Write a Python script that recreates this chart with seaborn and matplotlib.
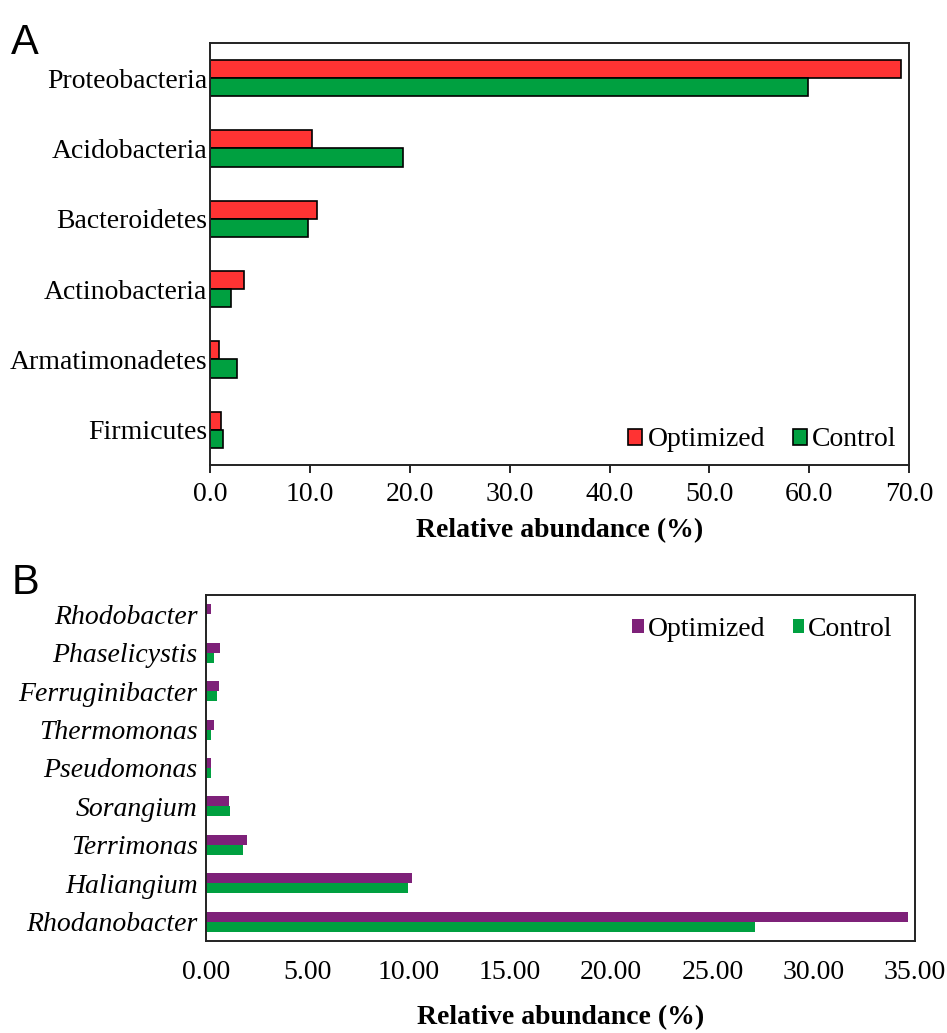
import matplotlib
matplotlib.use("Agg")
import matplotlib.pyplot as plt
import seaborn as sns
import pandas as pd

# Panel A data (phylum level)
phyla = ["Proteobacteria", "Acidobacteria", "Bacteroidetes", "Actinobacteria",
         "Armatimonadetes", "Firmicutes"]
phyla_optimized = [69.2, 10.2, 10.7, 3.4, 0.9, 1.1]
phyla_control = [59.9, 19.3, 9.8, 2.1, 2.7, 1.3]

# Panel B data (genus level)
genera = ["Rhodobacter", "Phaselicystis", "Ferruginibacter", "Thermomonas",
          "Pseudomonas", "Sorangium", "Terrimonas", "Haliangium", "Rhodanobacter"]
genera_optimized = [0.25, 0.68, 0.63, 0.40, 0.26, 1.14, 2.01, 10.15, 34.65]
genera_control = [0.05, 0.40, 0.54, 0.23, 0.26, 1.20, 1.83, 9.95, 27.10]

groups = ["Optimized", "Control"]

df_a = pd.DataFrame({
    "taxon": phyla * 2,
    "value": phyla_optimized + phyla_control,
    "group": [groups[0]] * len(phyla) + [groups[1]] * len(phyla),
})
df_b = pd.DataFrame({
    "taxon": genera * 2,
    "value": genera_optimized + genera_control,
    "group": [groups[0]] * len(genera) + [groups[1]] * len(genera),
})

sns.set_style("white")
plt.rcParams["font.family"] = ["Liberation Serif", "DejaVu Serif"]
for key in ["text.color", "axes.labelcolor", "xtick.color", "ytick.color"]:
    plt.rcParams[key] = "black"

fig = plt.figure(figsize=(9.47, 10.33), dpi=100)
ax_a = fig.add_axes([0.2218, 0.5499, 0.960 - 0.2218, 0.9584 - 0.5499])
ax_b = fig.add_axes([0.2175, 0.0891, 0.9662 - 0.2175, 0.424 - 0.0891])

fs = 20

# ---- Panel A
sns.barplot(data=df_a, y="taxon", x="value", hue="group", orient="h",
            order=phyla, hue_order=groups, palette=["#FF3333", "#00A040"],
            width=0.52, edgecolor="black", linewidth=1.2, saturation=1,
            ax=ax_a)
ax_a.set_xlim(0, 70)
ax_a.set_ylim(len(phyla) - 0.5, -0.5)
ax_a.set_xticks(range(0, 71, 10))
ax_a.set_xticklabels([f"{v:.1f}" for v in range(0, 71, 10)], fontsize=fs)
ax_a.tick_params(axis="x", direction="out", length=6, width=1.2, pad=6,
                 bottom=True)
ax_a.tick_params(axis="y", length=0, pad=2, labelsize=fs)
ax_a.set_ylabel("")
ax_a.set_xlabel("Relative abundance (%)", fontsize=fs, fontweight="bold", labelpad=8)
for s in ax_a.spines.values():
    s.set_linewidth(1.4)
    s.set_color("#222222")
ax_a.legend(loc="lower right", ncol=2, frameon=False, fontsize=fs,
            handlelength=0.5, handleheight=0.5, handletextpad=0.2,
            columnspacing=1.0, borderaxespad=0.05)

# ---- Panel B
sns.barplot(data=df_b, y="taxon", x="value", hue="group", orient="h",
            order=genera, hue_order=groups, palette=["#7E2179", "#00A040"],
            width=0.52, linewidth=0, saturation=1, ax=ax_b)
ax_b.set_xlim(0, 35)
ax_b.set_ylim(len(genera) - 0.5, -0.5)
ax_b.set_xticks(range(0, 36, 5))
ax_b.set_xticklabels([f"{v:.2f}" for v in range(0, 36, 5)], fontsize=fs)
ax_b.tick_params(axis="x", length=0, pad=14)
ax_b.tick_params(axis="y", length=0, pad=6, labelsize=fs)
for lbl in ax_b.get_yticklabels():
    lbl.set_fontstyle("italic")
ax_b.set_ylabel("")
ax_b.set_xlabel("Relative abundance (%)", fontsize=fs, fontweight="bold", labelpad=14)
for s in ax_b.spines.values():
    s.set_linewidth(1.4)
    s.set_color("#222222")
ax_b.legend(loc="upper right", ncol=2, frameon=False, fontsize=fs,
            handlelength=0.4, handleheight=0.4, handletextpad=0.15,
            columnspacing=1.0, borderaxespad=0.4)

fig.text(0.012, 0.958, "A", fontsize=30, family="Liberation Sans", va="center")
fig.text(0.012, 0.436, "B", fontsize=30, family="Liberation Sans", va="center")

fig.savefig("out.png", dpi=100)
